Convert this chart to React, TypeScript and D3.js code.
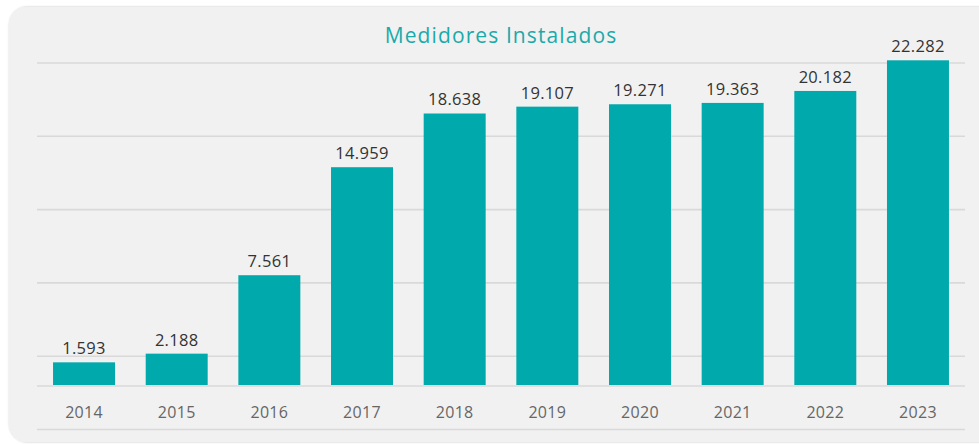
import React from "react";
import * as d3 from "d3";

const years = ["2014", "2015", "2016", "2017", "2018", "2019", "2020", "2021", "2022", "2023"];
const values = [1593, 2188, 7561, 14959, 18638, 19107, 19271, 19363, 20182, 22282];
const valueLabels = ["1.593", "2.188", "7.561", "14.959", "18.638", "19.107", "19.271", "19.363", "20.182", "22.282"];
const gridSteps = [0, 1, 2, 3, 4, 5];
const title = "Medidores Instalados";

const W = 979;
const H = 444;

export default function App() {
  const x = d3.scaleBand<string>().domain(years).range([37.7, 964.3]).paddingInner(0.331).paddingOuter(0.1655);
  const y = d3.scaleLinear().domain([0, 22282]).range([385.6, 60.3]);
  const g = d3.scaleLinear().domain([0, 5]).range([429.5, 63]);
  const font = "'Open Sans', 'Noto Sans', sans-serif";
  return (
    <svg width={W} height={H} style={{ position: "absolute", left: 0, top: 0, background: "#fff" }}>
      <defs>
        <filter id="sh" x="-5%" y="-5%" width="110%" height="110%">
          <feDropShadow dx="0" dy="0" stdDeviation="1" floodColor="#000" floodOpacity="0.25" />
        </filter>
      </defs>
      <rect x={9.5} y={7} width={990} height={435} rx={18} ry={18} fill="#f1f1f1" filter="url(#sh)" />
      {gridSteps.map((s) => (
        <line key={s} x1={37} x2={965} y1={g(s)} y2={g(s)} stroke="#d9d9d9" strokeWidth={1.6} />
      ))}
      <line x1={37} x2={965} y1={386} y2={386} stroke="#d9d9d9" strokeWidth={1.6} />
      {years.map((yr, i) => (
        <rect key={yr} x={x(yr)} y={y(values[i])} width={x.bandwidth()} height={385 - y(values[i])} fill="#00a9ac" />
      ))}
      {years.map((yr, i) => (
        <text key={"v" + yr} x={(x(yr) as number) + x.bandwidth() / 2} y={y(values[i]) - 8} textAnchor="middle"
          fontFamily={font} fontSize={16.5} letterSpacing={0.3} fill="#333">{valueLabels[i]}</text>
      ))}
      {years.map((yr) => (
        <text key={"l" + yr} x={(x(yr) as number) + x.bandwidth() / 2} y={418} textAnchor="middle"
          fontFamily={font} fontSize={16} letterSpacing={0.3} fill="#666">{yr}</text>
      ))}
      <text x={501} y={43.3} textAnchor="middle" fontFamily={font} fontSize={21} letterSpacing={1.1} fill="#1aaaaa">{title}</text>
    </svg>
  );
}
